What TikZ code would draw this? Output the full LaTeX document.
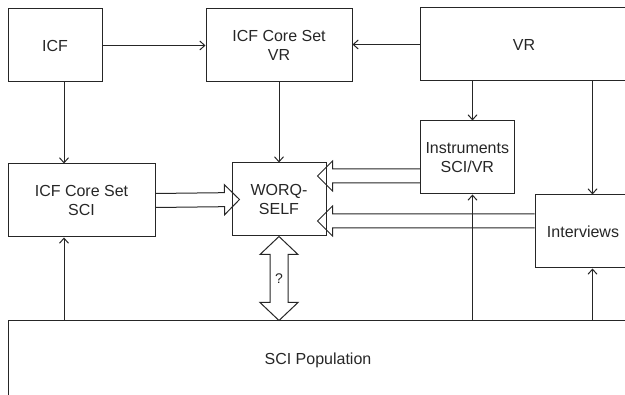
\documentclass[tikz,border=0pt]{standalone}
\usepackage{fontspec}
\setmainfont{Liberation Sans}
\usetikzlibrary{calc,arrows.meta}
\definecolor{ink}{gray}{0.15}
\tikzstyle{block}=[draw, line width=1pt, inner sep=0pt, align=center, font=\fontsize{16}{19}\selectfont]
\tikzstyle{link}=[draw, line width=1pt, -{Straight Barb[length=5pt,width=9pt]}]
\tikzstyle{fat}=[draw, line width=1pt, line join=miter]
\def\across{icf.east/csvr.west, vr.west/csvr.east}
\def\down{colA/icf.south/sci.north, colM/csvr.south/worq.north, colB/vr.south/instr.north, colC/vr.south/intv.north, colA/pop.north/sci.south, colB/pop.north/instr.south, colC/pop.north/intv.south}
% hollow arrow from #1 to #2
\newcommand\fatarrow[2]{%
  \coordinate (fa-base) at ($(#2)!15pt!(#1)$);
  \path[fat] ($(#1)!7pt!90:(#2)$) -- ($(fa-base)!7pt!90:(#2)$) -- ($(fa-base)!15pt!90:(#2)$) -- (#2)
    -- ($(fa-base)!15pt!-90:(#2)$) -- ($(fa-base)!7pt!-90:(#2)$) -- ($(#1)!7pt!-90:(#2)$);
}
% hollow arrow with heads at both ends
\newcommand\fatdarrow[2]{%
  \coordinate (fd-a) at ($(#1)!18pt!(#2)$);
  \coordinate (fd-b) at ($(#2)!18pt!(#1)$);
  \path[fat] (#1) -- ($(fd-a)!19pt!90:(#2)$) -- ($(fd-a)!9pt!90:(#2)$) -- ($(fd-b)!9pt!90:(#2)$)
    -- ($(fd-b)!19pt!90:(#2)$) -- (#2) -- ($(fd-b)!19pt!-90:(#2)$) -- ($(fd-b)!9pt!-90:(#2)$)
    -- ($(fd-a)!9pt!-90:(#2)$) -- ($(fd-a)!19pt!-90:(#2)$) -- cycle;
}

\begin{document}
\begin{tikzpicture}[x=1pt, y=-1pt, color=ink, text=ink]
  \clip (0,0) rectangle (625,395);

  % The boxes
  \node[block, minimum width=94pt, minimum height=73pt] (icf) at (55, 45.5) {ICF};
  \node[block, minimum width=146pt, minimum height=73pt] (csvr) at (279, 45.5) {ICF Core Set\\VR};
  \node[block, minimum width=208pt, minimum height=73pt] (vr) at (524, 44.5) {VR};
  \node[block, minimum width=93.5pt, minimum height=73pt] (instr) at (467.3, 157.5) {Instruments\\SCI/VR};
  \node[block, minimum width=147pt, minimum height=73pt] (sci) at (81.5, 200.5) {ICF Core Set\\SCI};
  \node[block, minimum width=94pt, minimum height=73pt] (worq) at (279, 199.5) {WORQ-\\SELF};
  \node[block, minimum width=96pt, minimum height=73pt] (intv) at (583, 231.5) {Interviews};
  \node[block, minimum width=620pt, minimum height=78pt] (pop) at (318, 360) {SCI Population};

  % Columns of the vertical arrows
  \coordinate (colA) at (64, 0);
  \coordinate (colM) at (279, 0);
  \coordinate (colB) at (472.5, 0);
  \coordinate (colC) at (592.5, 0);

  % Thin arrows
  \foreach \source/\dest in \across {
    \path[link] (\source) -- (\source -| \dest);
    }
  \foreach \col/\source/\dest in \down {
    \path[link] (\col |- \source) -- (\col |- \dest);
    }

  % Hollow arrows into WORQ-SELF
  \coordinate (sciOut) at (sci.east);
  \coordinate (sciIn) at ([xshift=8pt]worq.west);
  \coordinate (instrIn) at ([xshift=-9pt, yshift=23.5pt]worq.east);
  \coordinate (instrOut) at (instr.west |- instrIn);
  \coordinate (intvIn) at ([xshift=-9pt, yshift=-21.5pt]worq.east);
  \coordinate (intvOut) at (intv.west |- intvIn);
  \fatarrow{sciOut}{sciIn}
  \fatarrow{instrOut}{instrIn}
  \fatarrow{intvOut}{intvIn}

  % WORQ-SELF and the population
  \coordinate (popTop) at (worq.south |- pop.north);
  \fatdarrow{worq.south}{popTop}
  \node[font=\fontsize{14}{16}\selectfont] (ask) at ($(worq.south)!0.5!(popTop)$) {?};
\end{tikzpicture}
\end{document}
